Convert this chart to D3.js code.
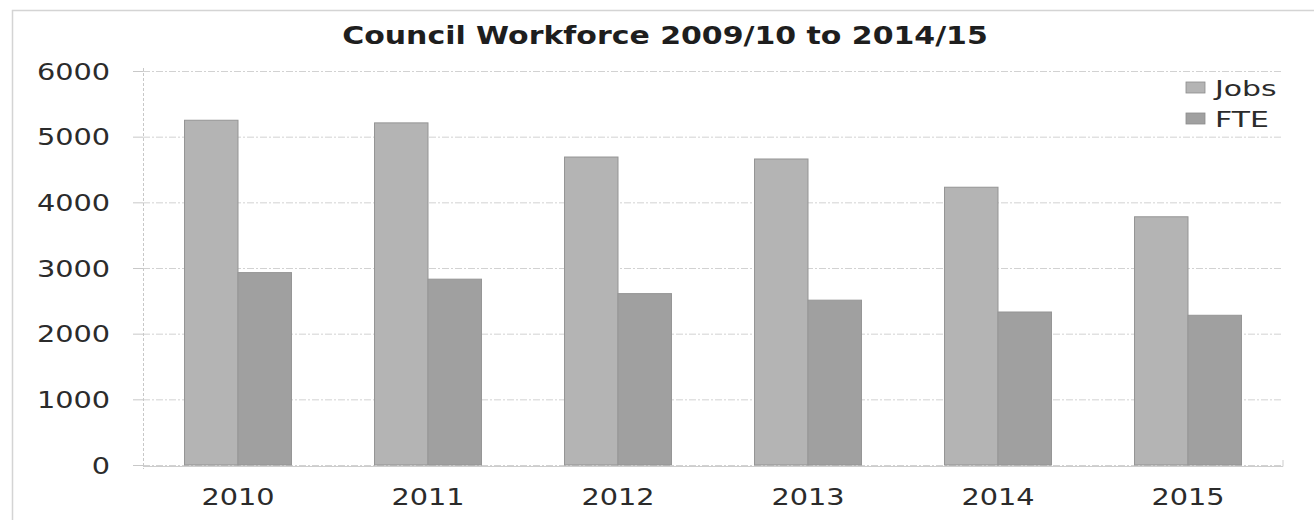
<!DOCTYPE html>
<html>
<head>
<meta charset="utf-8">
<script src="https://cdn.jsdelivr.net/npm/d3@7"></script>
<style>
  body { margin: 0; background: #fff; }
  svg { display: block; }
  text { font-family: "DejaVu Sans", Verdana, sans-serif; fill: #2b2b2b; }
</style>
</head>
<body>
<svg id="chart" width="1314" height="520"></svg>
<script>
const years = ["2010", "2011", "2012", "2013", "2014", "2015"];
const seriesNames = ["Jobs", "FTE"];
const jobs = [5250, 5210, 4690, 4660, 4230, 3780];
const fte = [2930, 2830, 2610, 2510, 2330, 2280];
const yTicks = [0, 1000, 2000, 3000, 4000, 5000, 6000];
const title = "Council Workforce 2009/10 to 2014/15";

const colors = { Jobs: "#b4b4b4", FTE: "#a0a0a0" };
const axisScale = 1.25;
const legendScale = 1.36;

const svg = d3.select("#chart");

// outer chart border
svg.append("path")
  .attr("d", "M12.5,520 V10.5 H1314")
  .attr("fill", "none")
  .attr("stroke", "#d4d4d4")
  .attr("stroke-width", 1.5);

const plot = { left: 143, right: 1283, top: 71, bottom: 465 };

const y = d3.scaleLinear().domain([0, 6000]).range([plot.bottom, plot.top]);

const x0 = d3.scaleBand()
  .domain(years)
  .range([plot.left, plot.right])
  .paddingInner(0.437)
  .paddingOuter(0.2185);

const x1 = d3.scaleBand()
  .domain(seriesNames)
  .range([0, x0.bandwidth()]);

// gridlines
const grid = svg.append("g")
  .attr("class", "grid")
  .attr("transform", `translate(${plot.left},0)`)
  .call(d3.axisLeft(y).tickValues(yTicks).tickFormat("").tickSize(-(plot.right - plot.left)));
grid.select(".domain").remove();
grid.selectAll("line")
  .attr("stroke", "#d2d2d2")
  .attr("stroke-dasharray", "7,2,2,2");

// y axis
const yAxis = svg.append("g")
  .attr("transform", `translate(${plot.left},0)`)
  .call(d3.axisLeft(y).tickValues(yTicks).tickSize(10).tickPadding(0).tickFormat(d3.format("d")));
yAxis.select(".domain")
  .attr("stroke", "#c8c8c8")
  .attr("stroke-dasharray", "3,2")
  .attr("d", `M0.5,${plot.top - 3}V${plot.bottom + 4}`);
yAxis.selectAll(".tick line").attr("stroke", "#c8c8c8");
yAxis.selectAll(".tick text")
  .attr("font-size", 23)
  .attr("x", -33 / axisScale)
  .attr("dy", "0.36em")
  .attr("transform", `scale(${axisScale},1)`)
  .style("fill", "#2b2b2b");

// bars
const rows = years.map((yr, i) => ({ year: yr, Jobs: jobs[i], FTE: fte[i] }));

const groups = svg.append("g")
  .selectAll("g")
  .data(rows)
  .join("g")
  .attr("transform", d => `translate(${x0(d.year)},0)`);

groups.selectAll("rect")
  .data(d => seriesNames.map(k => ({ key: k, value: d[k] })))
  .join("rect")
  .attr("x", d => x1(d.key))
  .attr("y", d => y(d.value))
  .attr("width", x1.bandwidth())
  .attr("height", d => y(0) - y(d.value))
  .attr("fill", d => colors[d.key])
  .attr("stroke", "#959595")
  .attr("stroke-width", 1);

// x axis
const xAxis = svg.append("g")
  .attr("transform", `translate(0,${plot.bottom + 1})`)
  .call(d3.axisBottom(x0).tickSize(0).tickPadding(0));
xAxis.select(".domain")
  .attr("stroke", "#cdcdcd")
  .attr("d", `M${plot.left},0.5H${plot.right}V-6`);
xAxis.selectAll(".tick text")
  .attr("font-size", 23)
  .attr("x", 0)
  .attr("y", 39)
  .attr("dy", 0)
  .attr("transform", `scale(${axisScale},1)`)
  .style("fill", "#2b2b2b");

// title
const titleText = svg.append("text")
  .attr("font-size", 24)
  .attr("font-weight", "bold")
  .attr("text-anchor", "middle")
  .style("fill", "#1e1e1e")
  .text(title);
const tw = titleText.node().getComputedTextLength();
titleText.attr("transform", `translate(665,44) scale(${646 / tw},1)`);

// legend
const legend = svg.append("g")
  .selectAll("g")
  .data(seriesNames)
  .join("g")
  .attr("transform", (d, i) => `translate(1186,${82 + i * 31})`);
legend.append("rect")
  .attr("width", 19)
  .attr("height", 11)
  .attr("fill", d => colors[d])
  .attr("stroke", "#8c8c8c")
  .attr("stroke-width", 0.8);
legend.append("text")
  .attr("x", 29 / legendScale)
  .attr("y", 14)
  .attr("font-size", 22)
  .attr("transform", `scale(${legendScale},1)`)
  .text(d => d);
</script>
</body>
</html>
